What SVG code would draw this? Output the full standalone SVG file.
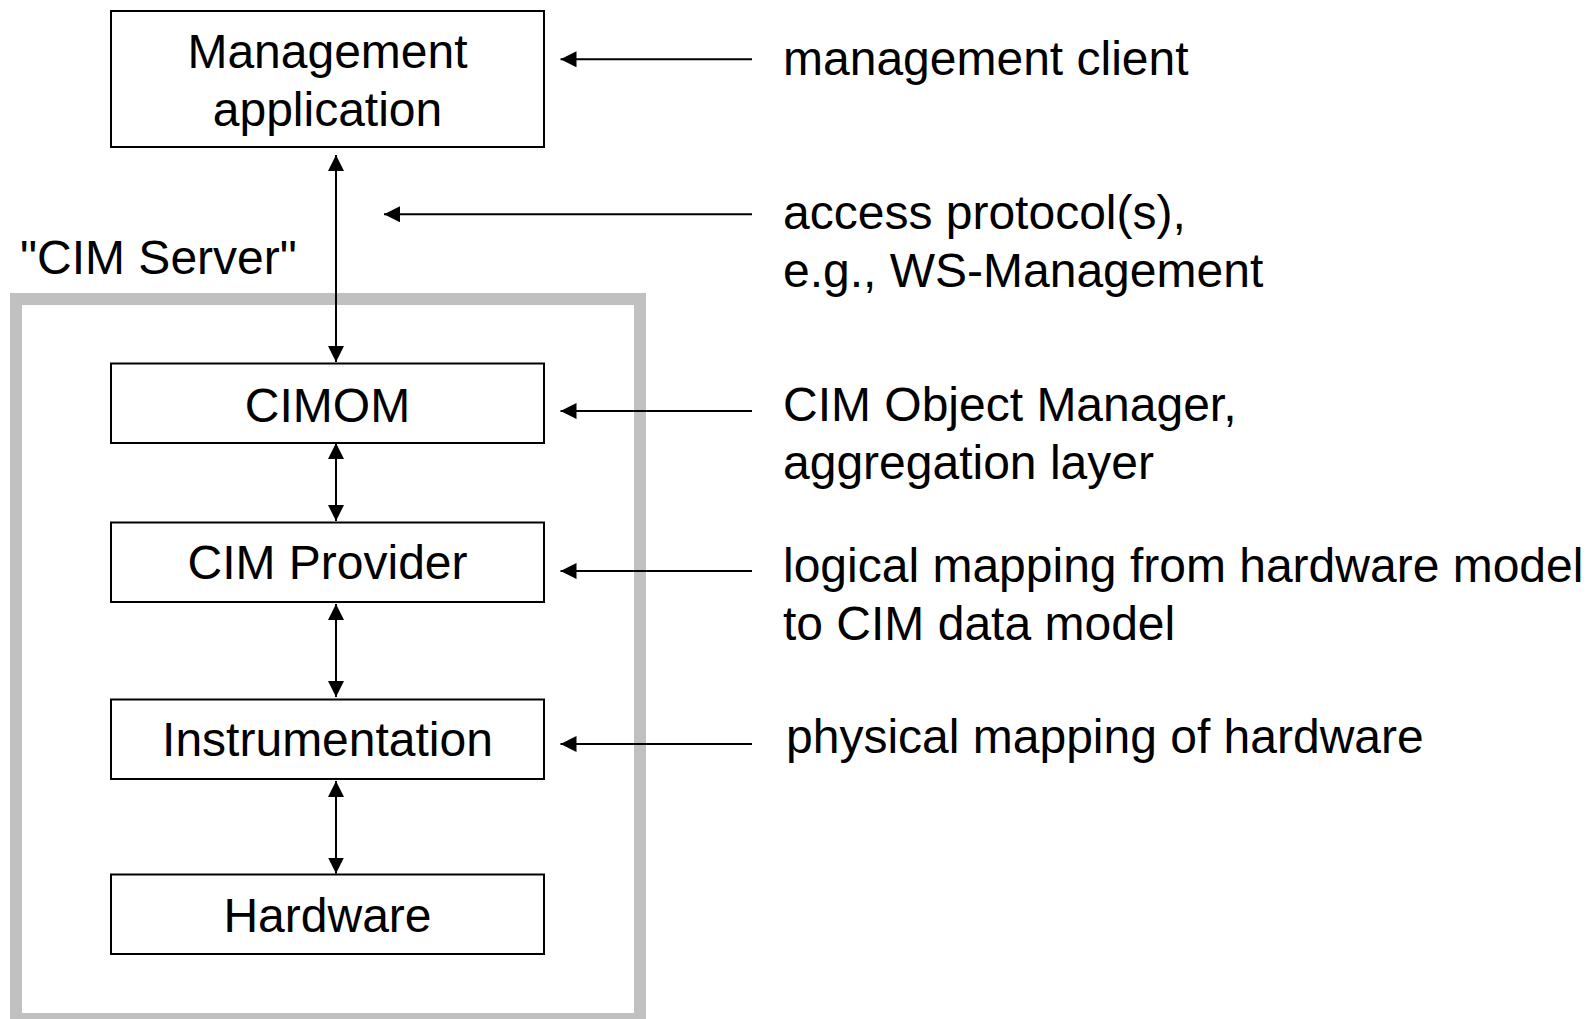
<svg xmlns="http://www.w3.org/2000/svg" width="1591" height="1019" viewBox="0 0 1591 1019">
<defs>
<style>
.box{fill:#fff;stroke:#000;stroke-width:2}
.t{font-family:"Liberation Sans",Arial,sans-serif;font-size:48px;fill:#000}
.c{text-anchor:middle}
.ln{stroke:#000;stroke-width:2;fill:none}
</style>
<marker id="ah" viewBox="0 0 16 16" refX="16" refY="8" markerWidth="16" markerHeight="16" markerUnits="userSpaceOnUse" orient="auto-start-reverse">
<path d="M0,0 L16,8 L0,16 z" fill="#000"/>
</marker>
</defs>
<rect width="1591" height="1019" fill="#fff"/>
<g id="cim-server">
<rect x="16" y="299" width="624" height="720" fill="none" stroke="#c0c0c0" stroke-width="12"/>
<text class="t" x="20" y="273.5">"CIM Server"</text>
</g>
<g id="mgmt">
<rect class="box" x="111" y="11" width="433" height="136"/>
<text class="t c" x="327.5" y="68.3">Management</text>
<text class="t c" x="327.5" y="126">application</text>
</g>
<g id="cimom">
<rect class="box" x="111" y="363.5" width="433" height="79.5"/>
<text class="t c" x="327.5" y="422.3">CIMOM</text>
</g>
<g id="provider">
<rect class="box" x="111" y="522.5" width="433" height="79.5"/>
<text class="t c" x="327.5" y="579.4">CIM Provider</text>
</g>
<g id="instr">
<rect class="box" x="111" y="699.5" width="433" height="79.5"/>
<text class="t c" x="327.5" y="756">Instrumentation</text>
</g>
<g id="hardware">
<rect class="box" x="111" y="874.5" width="433" height="79.5"/>
<text class="t c" x="327.5" y="932.4">Hardware</text>
</g>
<g id="labels">
<text class="t" x="783" y="74.5">management client</text>
<text class="t" x="783" y="228.5">access protocol(s),</text>
<text class="t" x="783" y="287">e.g., WS-Management</text>
<text class="t" x="783" y="421">CIM Object Manager,</text>
<text class="t" x="783" y="479">aggregation layer</text>
<text class="t" x="783" y="581.7">logical mapping from hardware model</text>
<text class="t" x="783" y="639.5">to CIM data model</text>
<text class="t" x="786" y="753">physical mapping of hardware</text>
</g>
<g id="connectors">
<line class="ln" x1="336" y1="155" x2="336" y2="362" marker-start="url(#ah)" marker-end="url(#ah)"/>
<line class="ln" x1="336" y1="443" x2="336" y2="521" marker-start="url(#ah)" marker-end="url(#ah)"/>
<line class="ln" x1="336" y1="604" x2="336" y2="697" marker-start="url(#ah)" marker-end="url(#ah)"/>
<line class="ln" x1="336" y1="781" x2="336" y2="873.5" marker-start="url(#ah)" marker-end="url(#ah)"/>
<line class="ln" x1="752" y1="59.3" x2="560.5" y2="59.3" marker-end="url(#ah)"/>
<line class="ln" x1="752" y1="214.3" x2="384" y2="214.3" marker-end="url(#ah)"/>
<line class="ln" x1="752" y1="411" x2="560.5" y2="411" marker-end="url(#ah)"/>
<line class="ln" x1="752" y1="571" x2="560.5" y2="571" marker-end="url(#ah)"/>
<line class="ln" x1="752" y1="744" x2="560.5" y2="744" marker-end="url(#ah)"/>
</g>
</svg>
